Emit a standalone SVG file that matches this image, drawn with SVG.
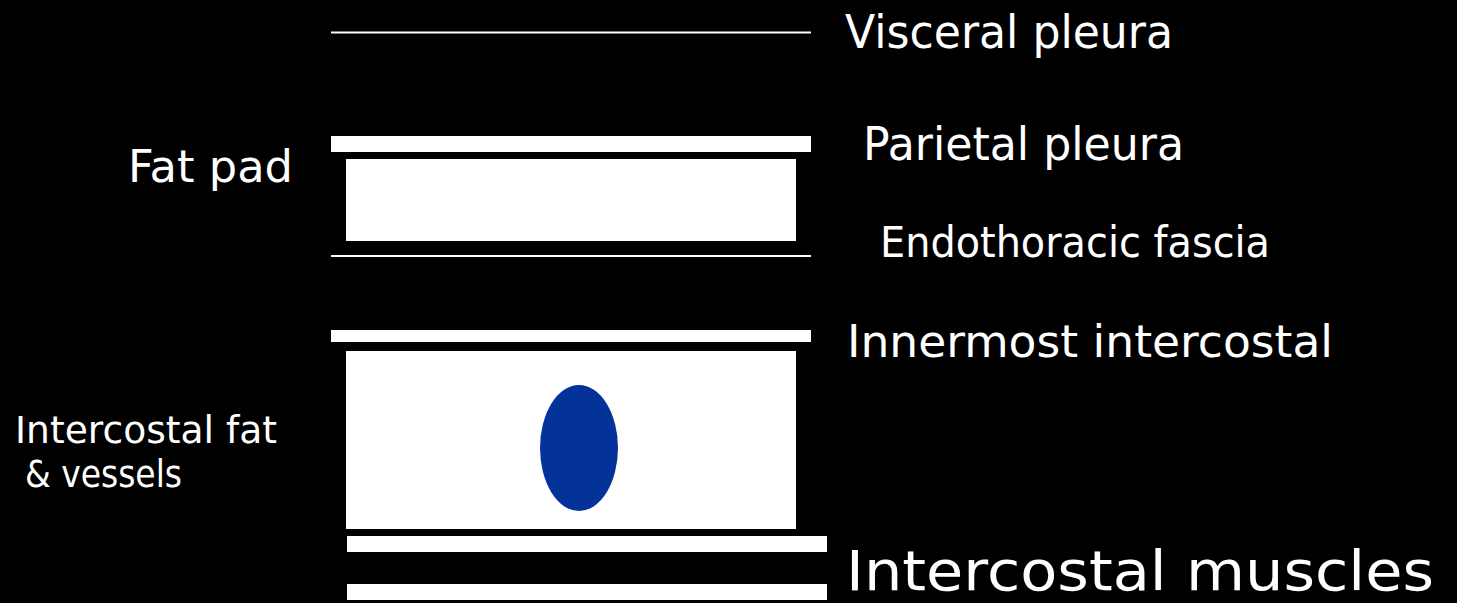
<svg xmlns="http://www.w3.org/2000/svg" width="1457" height="603" viewBox="0 0 1457 603">
  <style>
    .label { fill: #ffffff; font-family: "DejaVu Sans", "Liberation Sans", sans-serif; }
    .layer { fill: #ffffff; }
    .membrane { stroke: #ffffff; stroke-width: 2; }
  </style>
  <rect x="0" y="0" width="1457" height="603" fill="#000000"/>

  <!-- chest wall layers, deep to superficial -->
  <g id="visceral-pleura">
    <line class="membrane" x1="331" y1="32.5" x2="811" y2="32.5"/>
    <text class="label" x="845" y="48" font-size="46" textLength="328" lengthAdjust="spacingAndGlyphs">Visceral pleura</text>
  </g>

  <g id="parietal-pleura">
    <rect class="layer" x="331" y="136" width="480" height="16"/>
    <text class="label" x="863" y="160" font-size="46" textLength="321" lengthAdjust="spacingAndGlyphs">Parietal pleura</text>
  </g>

  <g id="fat-pad">
    <rect class="layer" x="346" y="159" width="450" height="82"/>
    <text class="label" x="128" y="182" font-size="45" textLength="165" lengthAdjust="spacingAndGlyphs">Fat pad</text>
  </g>

  <g id="endothoracic-fascia">
    <line class="membrane" x1="331" y1="256" x2="811" y2="256"/>
    <text class="label" x="880" y="257" font-size="42" textLength="390" lengthAdjust="spacingAndGlyphs">Endothoracic fascia</text>
  </g>

  <g id="innermost-intercostal">
    <rect class="layer" x="331" y="330" width="480" height="12"/>
    <text class="label" x="847" y="357" font-size="45" textLength="486" lengthAdjust="spacingAndGlyphs">Innermost intercostal</text>
  </g>

  <g id="intercostal-space">
    <rect class="layer" x="346" y="351" width="450" height="178"/>
    <ellipse cx="579" cy="448" rx="39" ry="63" fill="#033399"/>
    <text class="label" x="15" y="443" font-size="37" textLength="262" lengthAdjust="spacingAndGlyphs">Intercostal fat</text>
    <text class="label" x="25" y="487" font-size="37" textLength="157" lengthAdjust="spacingAndGlyphs">&amp; vessels</text>
  </g>

  <g id="intercostal-muscles">
    <rect class="layer" x="347" y="536" width="480" height="16"/>
    <rect class="layer" x="347" y="584" width="480" height="16"/>
    <text class="label" x="846" y="590" font-size="56" textLength="588" lengthAdjust="spacingAndGlyphs">Intercostal muscles</text>
  </g>

  <g id="connectors"/>
</svg>
